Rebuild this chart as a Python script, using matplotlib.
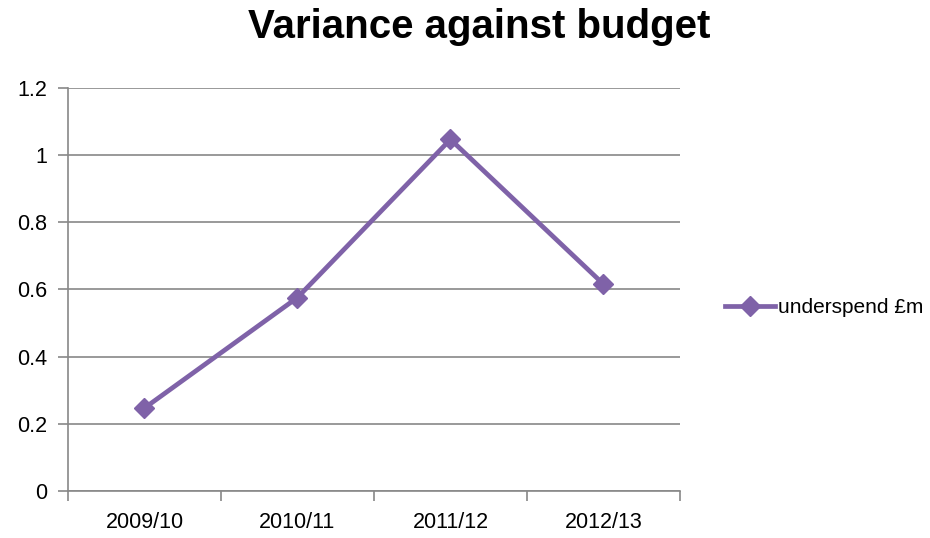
import matplotlib
matplotlib.use("Agg")
import matplotlib.pyplot as plt
from matplotlib.ticker import FixedLocator, NullFormatter

plt.rcParams['font.family'] = ['Liberation Sans', 'DejaVu Sans']

years = ["2009/10", "2010/11", "2011/12", "2012/13"]
underspend = [0.247, 0.576, 1.047, 0.616]

purple = "#7F62A8"

fig = plt.figure(figsize=(9.3, 5.38), dpi=100)
ax = fig.add_axes([0.0731, 0.0874, 0.658, 0.749])

x = list(range(len(years)))
ax.plot(x, underspend, color=purple, linewidth=3.4, marker="D", markersize=10,
        label="underspend £m")

ax.set_xlim(-0.5, len(years) - 0.5)
ax.set_ylim(0, 1.2)
ax.set_yticks([0, 0.2, 0.4, 0.6, 0.8, 1.0, 1.2])
ax.set_yticklabels(["0", "0.2", "0.4", "0.6", "0.8", "1", "1.2"])
ax.set_xticks(x)
ax.set_xticklabels(years)
ax.tick_params(axis="x", length=0, labelsize=15.5, pad=15)
ax.xaxis.set_minor_locator(FixedLocator([i - 0.5 for i in range(len(years) + 1)]))
ax.xaxis.set_minor_formatter(NullFormatter())
ax.tick_params(axis="x", which="minor", length=7, color="#888888", width=1.2)
ax.tick_params(axis="y", length=7, color="#888888", width=1.2, labelsize=15.5, pad=8)

ax.yaxis.grid(True, color="#888888", linewidth=1.2)
ax.set_axisbelow(True)
for s in ["top", "right"]:
    ax.spines[s].set_visible(False)
for s in ["left", "bottom"]:
    ax.spines[s].set_color("#888888")
    ax.spines[s].set_linewidth(1.2)

fig.suptitle("Variance against budget", fontsize=29, fontweight="bold", x=0.515, y=0.985)

ax.legend(loc="center left", bbox_to_anchor=(1.06, 0.455), frameon=False,
          fontsize=15, handlelength=2.4, handletextpad=0.15, borderaxespad=0)

fig.savefig("out.png", dpi=100)
